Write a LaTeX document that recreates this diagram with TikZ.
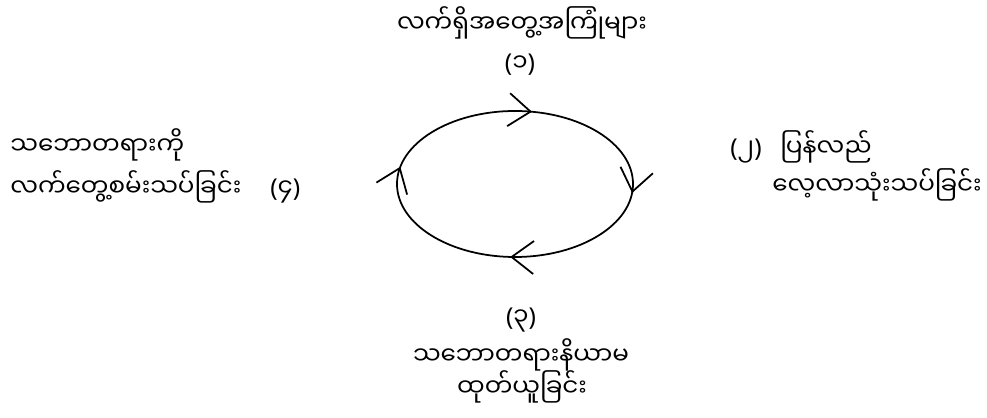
\documentclass[tikz,border=0pt]{standalone}
\usepackage{fontspec}
\setmainfont{Noto Sans}
\newfontfamily\mmfont[Script=Myanmar]{Noto Sans Myanmar UI}
\usetikzlibrary{arrows.meta,decorations.markings}

\begin{document}
\begin{tikzpicture}[
  x=0.02cm, y=0.02cm,
  >={Straight Barb[length=4.4mm,width=6.6mm]},
  line cap=round,
  line join=round,
  every node/.style={font=\mmfont\fontsize{14}{17}\selectfont, inner sep=0pt},
  loopline/.style={line width=1pt, postaction=decorate, decoration={markings,
    mark=at position 0.222 with {\arrowreversed{>}},
    mark=at position 0.471 with {\arrowreversed{>}},
    mark=at position 0.742 with {\arrowreversed{>}},
    mark=at position 0.985 with {\arrowreversed{>}}}}
]
  \useasboundingbox (0,0) rectangle (987,418);

  % Centre of the cycle
  \coordinate (c) at (515,234);

  % The cycle, running clockwise
  \draw[loopline] (c) ellipse [x radius=118, y radius=73];

  % Stage (1), top
  \node[anchor=base] (s1a) at (522,385) {လက်ရှိအတွေ့အကြုံများ};
  \node[anchor=base] (s1b) at (520,346) {{\rmfamily(}၁{\rmfamily)}};

  % Stage (2), right
  \node[anchor=base west] (s2n) at (730,261) {{\rmfamily(}၂{\rmfamily)}};
  \node[anchor=base west] (s2a) at (780,261) {ပြန်လည်};
  \node[anchor=base east] (s2b) at (982,223) {လေ့လာသုံးသပ်ခြင်း};

  % Stage (3), bottom
  \node[anchor=base] (s3n) at (521,92) {{\rmfamily(}၃{\rmfamily)}};
  \node[anchor=base] (s3a) at (521,53) {သဘောတရားနိယာမ};
  \node[anchor=base] (s3b) at (522,21) {ထုတ်ယူခြင်း};

  % Stage (4), left
  \node[anchor=base west] (s4a) at (10,263) {သဘောတရားကို};
  \node[anchor=base west] (s4b) at (10,221) {လက်တွေ့စမ်းသပ်ခြင်း};
  \node[anchor=base west] (s4n) at (270,221) {{\rmfamily(}၄{\rmfamily)}};
\end{tikzpicture}
\end{document}
